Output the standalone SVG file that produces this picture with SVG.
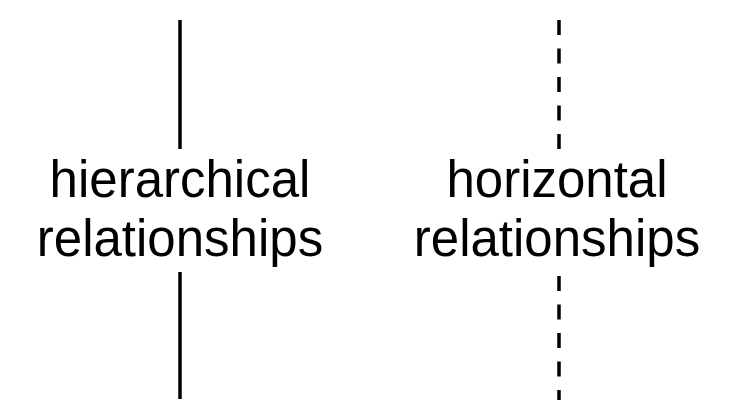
<svg xmlns="http://www.w3.org/2000/svg" width="743" height="419" viewBox="0 0 743 419">
<style>
.lbl{font-family:"Liberation Sans",Arial,sans-serif;font-size:51px;fill:#000;text-anchor:middle}
.solid{stroke:#000;stroke-width:3.5;fill:none}
.dash{stroke:#000;stroke-width:3.5;fill:none;stroke-dasharray:15 13.5}
</style>
<rect width="743" height="419" fill="#fff"/>
<g id="connectors">
<line class="solid" x1="180" y1="20" x2="180" y2="149"/>
<line class="solid" x1="180" y1="272" x2="180" y2="399"/>
<line class="dash" x1="559" y1="20" x2="559" y2="149"/>
<line class="dash" x1="559" y1="276" x2="559" y2="400"/>
</g>
<g id="hierarchical">
<text class="lbl" x="180" y="197">hierarchical</text>
<text class="lbl" x="180" y="256">relationships</text>
</g>
<g id="horizontal">
<text class="lbl" x="557" y="197">horizontal</text>
<text class="lbl" x="557" y="256">relationships</text>
</g>
</svg>
